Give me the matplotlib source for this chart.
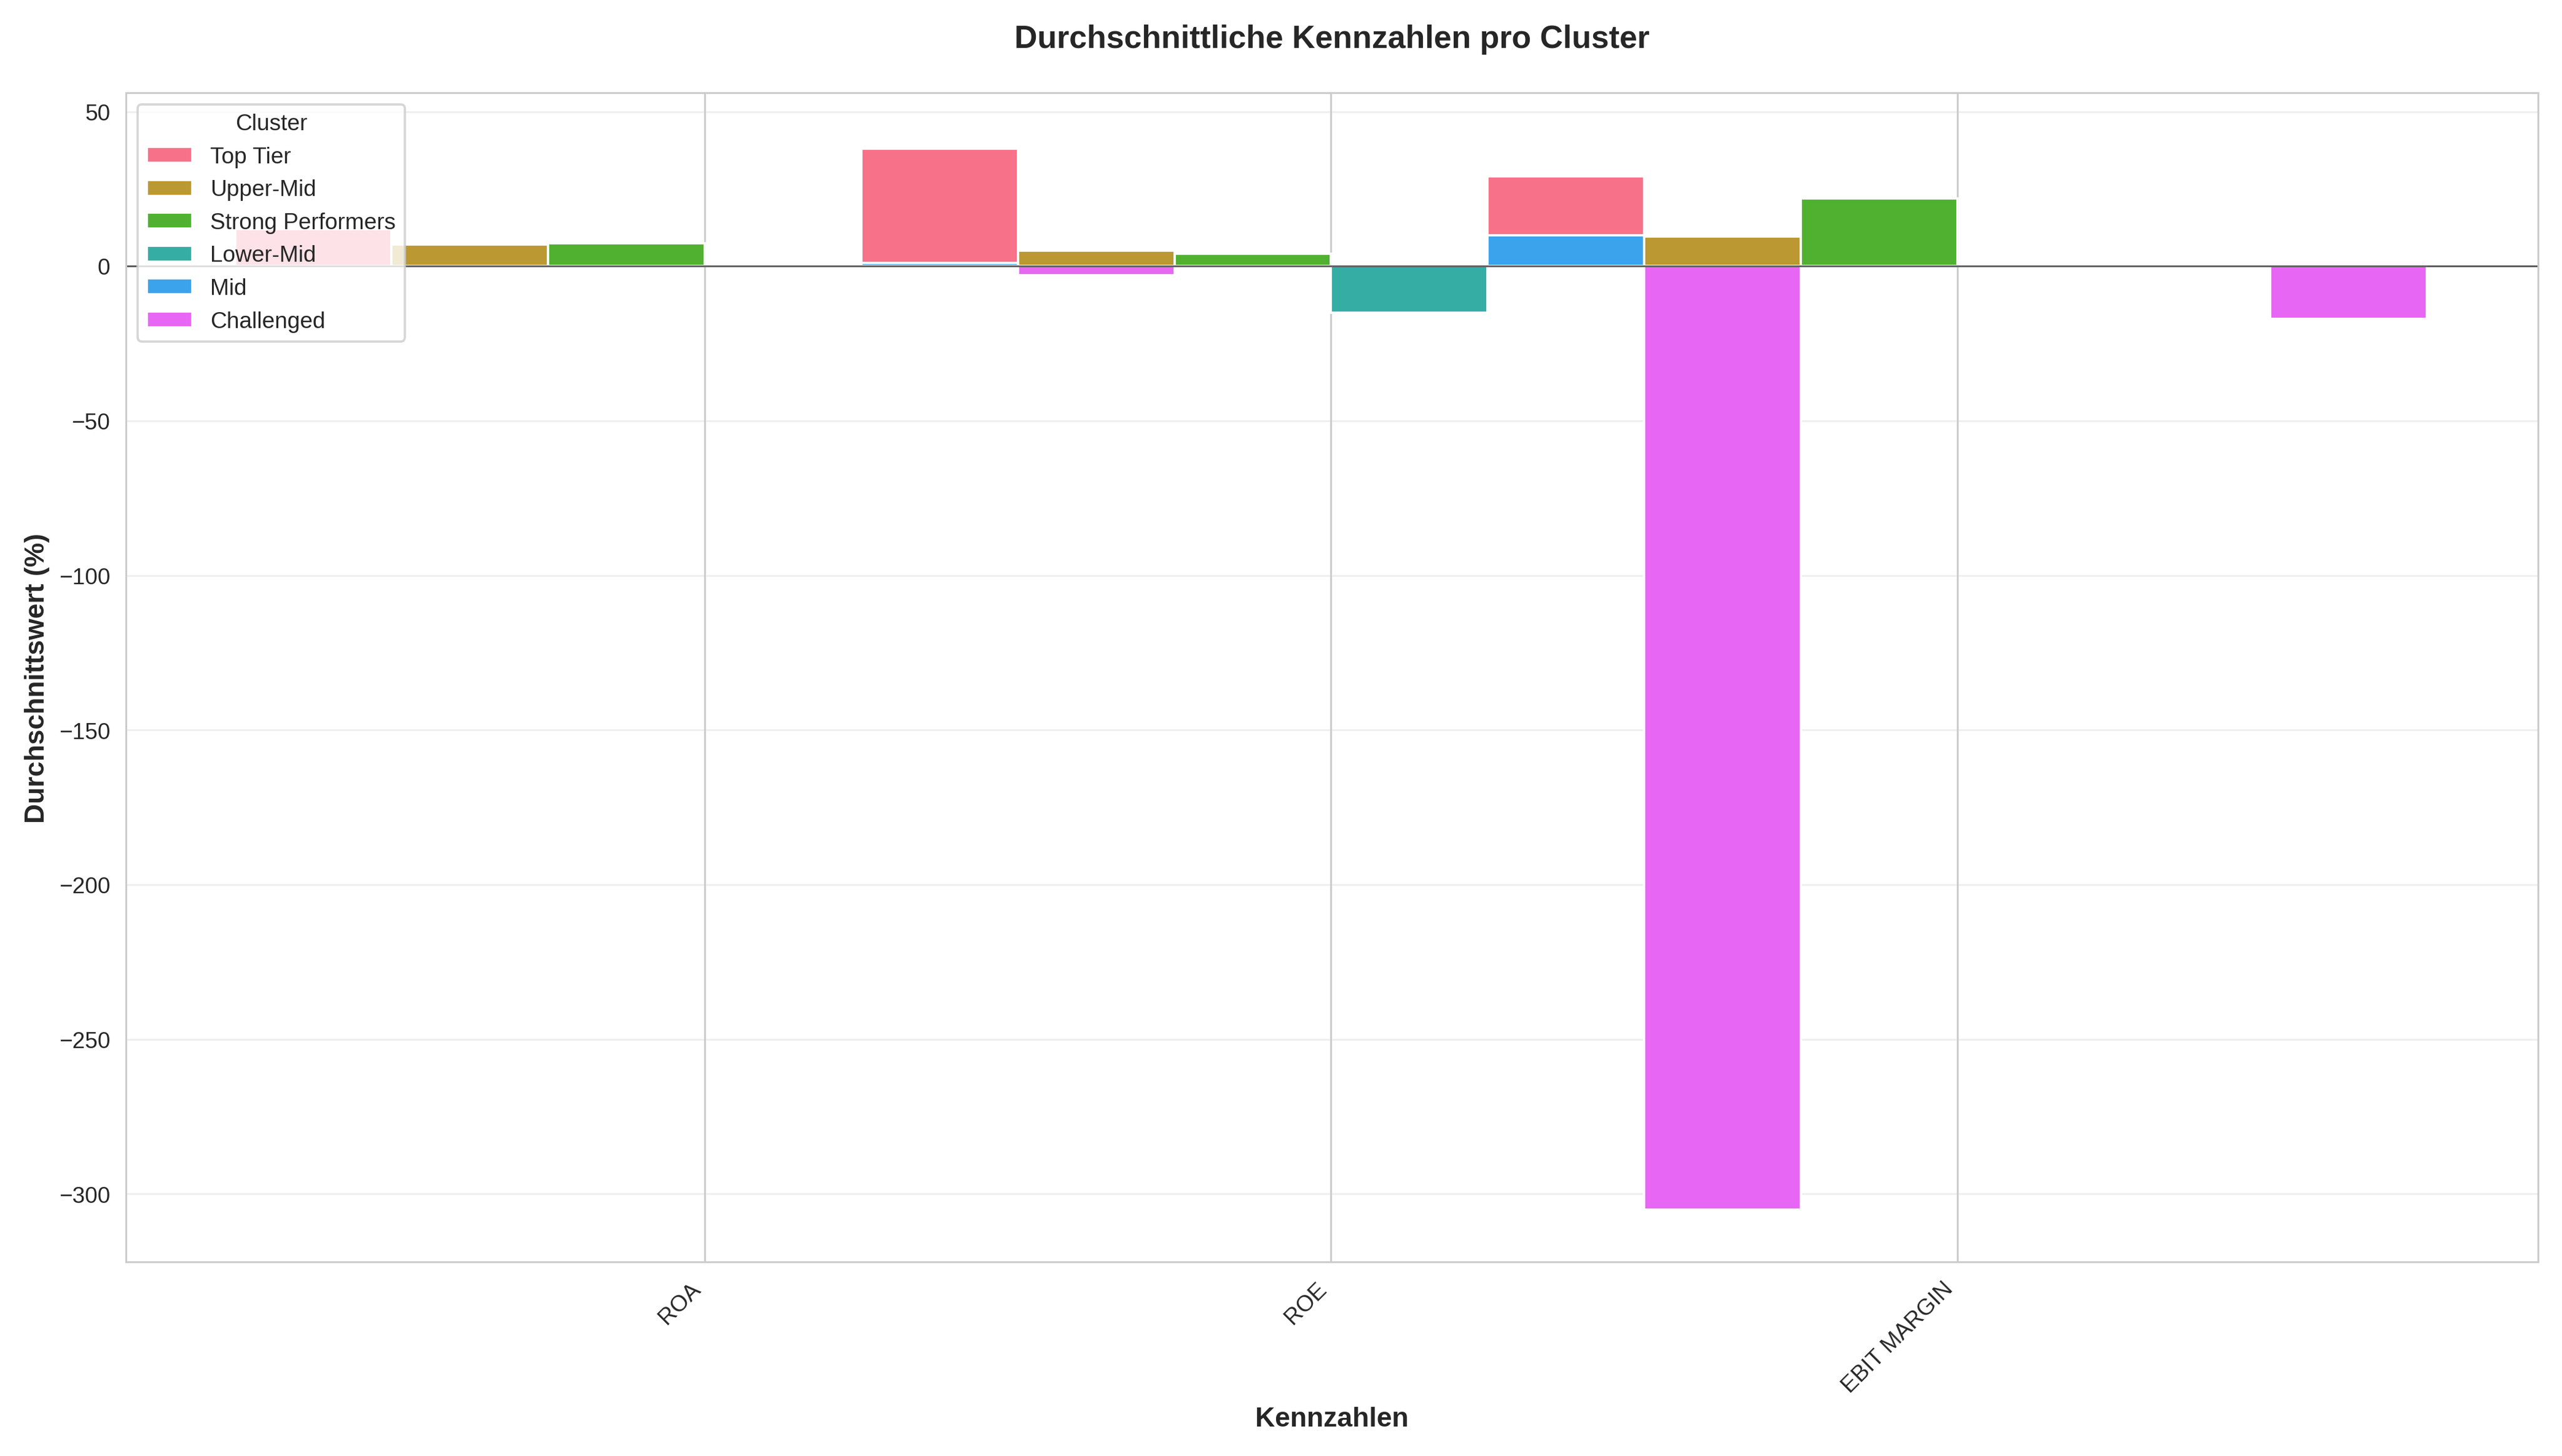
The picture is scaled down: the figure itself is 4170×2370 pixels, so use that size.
import matplotlib
matplotlib.use("Agg")
import matplotlib.pyplot as plt
import seaborn as sns
import numpy as np

sns.set_style("whitegrid")
plt.rcParams['font.family'] = ['Arial', 'Liberation Sans', 'DejaVu Sans']

metrics = ["ROA", "ROE", "EBIT MARGIN"]
clusters = ["Top Tier", "Upper-Mid", "Strong Performers", "Lower-Mid", "Mid", "Challenged"]
top_tier = [12, 38, 29]
upper_mid = [7, 5, 9.5]
strong = [7.5, 4, 22]
lower_mid = [0, -15, 0]
mid = [1, 10, 0]
challenged = [-3, -305, -17]
values = [top_tier, upper_mid, strong, lower_mid, mid, challenged]

colors = sns.color_palette("husl", 6)
fig, ax = plt.subplots(figsize=(15.64, 8.89), dpi=266.67)

x = np.arange(len(metrics))
width = 0.25
for i, (name, vals) in enumerate(zip(clusters, values)):
    offset = (i - 2.5) * width
    ax.bar(x + offset, vals, width, label=name, color=colors[i], edgecolor="white", linewidth=1)

ax.axhline(0, color="black", linewidth=0.8, alpha=0.6)
ax.set_xticks(x)
ax.set_xticklabels(metrics, rotation=45, ha="right", fontsize=10)
ax.set_xlim(-0.924, 2.927)
ax.set_ylim(-322, 56)
ax.grid(axis="y", alpha=0.3)
ax.set_title("Durchschnittliche Kennzahlen pro Cluster", fontsize=14, fontweight="bold", pad=20)
ax.set_xlabel("Kennzahlen", fontsize=12, fontweight="bold")
ax.set_ylabel("Durchschnittswert (%)", fontsize=12, fontweight="bold")
ax.legend(title="Cluster", loc="upper left", fontsize=10, title_fontsize=10)

plt.tight_layout()
plt.savefig("out.png", dpi=266.67)
